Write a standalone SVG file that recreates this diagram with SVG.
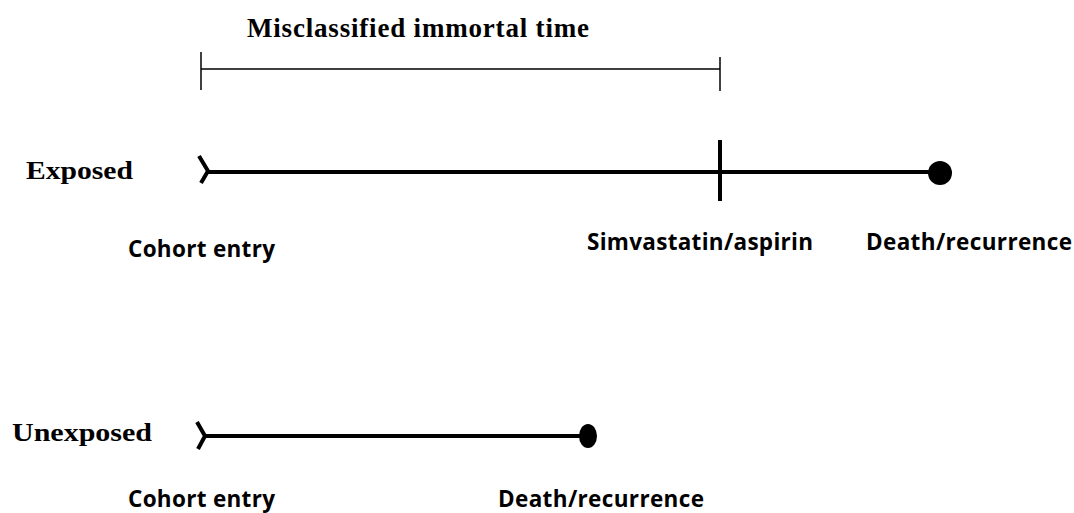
<svg xmlns="http://www.w3.org/2000/svg" width="1074" height="513" viewBox="0 0 1074 513">
<style>
.serif{font-family:"Liberation Serif","Times New Roman",serif;font-weight:bold;font-size:25px;fill:#000}
.title{font-size:27px}
.sans{font-family:"Open Sans","Liberation Sans",sans-serif;font-weight:bold;font-size:22.5px;fill:#000}
.thin{stroke:#000;stroke-width:1.5;fill:none}
.thick{stroke:#000;stroke-width:4;fill:none;stroke-linejoin:round}
</style>
<rect width="1074" height="513" fill="#fff"/>
<g id="bracket">
<text class="serif title" x="247" y="37" textLength="342">Misclassified immortal time</text>
<line class="thin" x1="201" y1="69" x2="720" y2="69"/>
<line class="thin" x1="201" y1="52" x2="201" y2="90"/>
<line class="thin" x1="720" y1="57" x2="720" y2="91"/>
</g>
<g id="exposed-label"><text class="serif" x="26" y="179" textLength="107" lengthAdjust="spacingAndGlyphs">Exposed</text></g>
<g id="unexposed-label"><text class="serif" x="12" y="441" textLength="140" lengthAdjust="spacingAndGlyphs">Unexposed</text></g>
<g id="exposed-entry">
<polyline class="thick" points="199,156 208,171 201,183"/>
<text class="sans" x="128" y="257" textLength="147">Cohort entry</text>
</g>
<g id="exposed-drug">
<line class="thick" x1="720" y1="140" x2="720" y2="201"/>
<text class="sans" x="587" y="250" textLength="226">Simvastatin/aspirin</text>
</g>
<g id="exposed-event">
<circle cx="940" cy="173" r="12" fill="#000"/>
<text class="sans" x="866" y="250" textLength="206">Death/recurrence</text>
</g>
<g id="unexposed-entry">
<polyline class="thick" points="197,422 205,436 198,449"/>
<text class="sans" x="128" y="507" textLength="147">Cohort entry</text>
</g>
<g id="unexposed-event">
<ellipse cx="588" cy="436" rx="9" ry="12" fill="#000"/>
<text class="sans" x="498" y="507" textLength="206">Death/recurrence</text>
</g>
<g id="connectors">
<line class="thick" x1="208" y1="172" x2="935" y2="172"/>
<line class="thick" x1="204" y1="436" x2="584" y2="436"/>
</g>
</svg>
